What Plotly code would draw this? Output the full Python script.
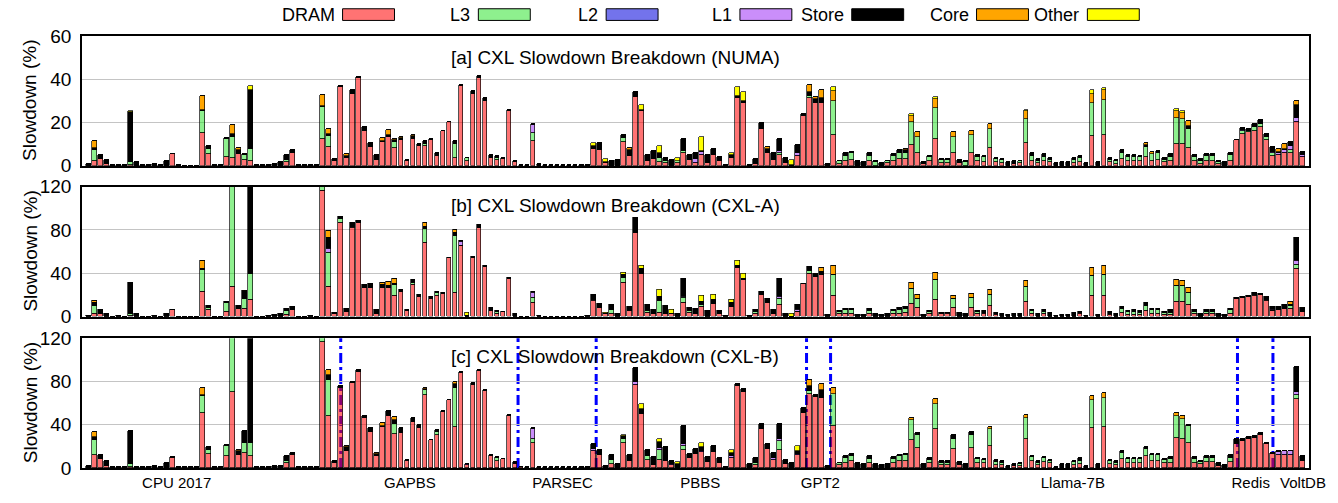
import plotly.graph_objects as go

N = 203
slots = list(range(N))

# ---------------- Panel a: NUMA ----------------
a_dram = [
 0, 2.2, 3, 1, 0, 0, 0, 0.3, 0, 0,
 0, 0, 0, 0, 5.2, 0, 0, 0, 0, 15,
 5.4, 0, 0, 4.2, 3.4, 5.4, 2.7, 2.2, 0, 0,
 0, 0, 0, 1.5, 5.7, 0, 0, 0, 0, 12.4,
 8.7, 2, 36.3, 3.7, 33.4, 40.5, 16, 8.7, 2.7, 11,
 13.2, 8.2, 11.7, 2.2, 12.4, 9.1, 9.1, 12, 4.5, 15.9,
 20, 3.7, 36.9, 2.2, 33.4, 40.5, 30, 3.7, 2.7, 3,
 25.5, 1.5, 0, 0, 11.2, 0, 0, 0, 0, 0,
 0, 0, 0, 0, 7.5, 7.2, 1.2, 0, 0, 11,
 4.5, 32, 25.5, 2, 3, 1.5, 1.2, 0, 1.2, 6,
 2.7, 1.2, 5, 1.2, 5, 2, 0, 3.4, 31.2, 28.8,
 0, 1, 17, 5.7, 2.7, 5, 1.2, 0, 4.5, 23,
 31.2, 29, 29, 0, 14.4, 1, 2, 2.7, 0, 0,
 2, 0, 0, 1.2, 2, 3, 3, 9.4, 6, 1,
 2, 12.4, 1.2, 1.2, 6, 1.2, 0, 6, 2, 1.5,
 8, 1.5, 1.2, 0, 0.9, 1.2, 10.5, 2.2, 1.2, 2,
 1.5, 0, 0, 0, 1.2, 1.5, 0, 13.6, 0, 14,
 1.5, 0.9, 3, 2, 2, 2, 4.2, 2.4, 2.7, 1.5,
 2, 10.2, 10.2, 8, 2, 1, 2.2, 2.2, 1, 0,
 2.4, 12, 14.7, 15.4, 15.9, 17.7, 12, 4.5, 5, 5.7,
 6, 20.4, 3.9]
a_l3 = [
 0, 5, 0, 0, 0, 0, 0, 1.2, 0, 0,
 0, 0, 0, 0, 0, 0, 0, 0, 0, 10.2,
 2.2, 0, 0, 8.2, 9.8, 0, 2.3, 5.3, 0, 0,
 0, 0, 0, 1.2, 0, 0, 0, 0, 0, 14.9,
 5.1, 0, 0, 0, 0, 0, 0, 0, 0, 0,
 0, 2.8, 0, 0, 0, 0, 1.1, 0, 0, 0,
 0, 6.3, 0, 1.2, 0, 0, 0, 0, 0.8, 0,
 0, 0, 0, 0, 3.8, 0, 0, 0, 0, 0,
 0, 0, 0, 0, 0, 0, 0, 0, 0, 1.7,
 0, 0, 0, 0, 0, 2.2, 1, 0, 0.8, 0.9,
 0, 0, 0, 0, 0, 0, 0, 0, 0, 0,
 0, 0, 0, 0, 0, 1, 0, 0, 0, 0,
 1, 0, 0, 0, 15.6, 1, 2.5, 3, 0, 0,
 2.5, 1.5, 0, 0.8, 2.5, 3, 3, 10.6, 7.2, 0,
 1.8, 14.3, 1.5, 1.5, 7.2, 0, 1.5, 8, 2.2, 2.4,
 9, 1.5, 1.5, 0, 0, 0.8, 11.2, 2.3, 1, 2.2,
 1.2, 0, 0, 0, 1.5, 2, 0, 15.4, 0, 16.4,
 1.2, 1.4, 3, 2, 2, 2, 4.5, 2.9, 3, 1.2,
 2.2, 12, 11.2, 9, 1.8, 1.2, 2.2, 2.2, 0.8, 0,
 2.6, 0, 1.5, 0.8, 1.8, 1.8, 1.2, 1.2, 0, 0,
 1.2, 0, 0]
a_store = [
 0.8, 1.2, 2, 1.7, 0.3, 0.3, 0.2, 23.5, 1.5, 0.3,
 0.3, 0.6, 0.3, 2, 0.3, 0.2, 0, 0, 0, 0.8,
 1.4, 0.2, 0.2, 0.3, 1.5, 2, 0.4, 27.7, 0.2, 0.1,
 0.3, 0.6, 1.5, 2.3, 1.5, 0.2, 0.1, 0.3, 0.1, 0.5,
 0.9, 1, 0.6, 0.8, 1.8, 0.6, 1.7, 1.8, 2.1, 0.6,
 1, 0.8, 1, 0.5, 1.2, 0.9, 1, 0.3, 1.2, 0.3,
 0.3, 1.2, 0.3, 0.3, 1.1, 0.9, 1.2, 1.3, 1, 0.7,
 0.3, 0.7, 0.3, 0.2, 0.6, 1, 0.3, 0.2, 0.3, 0.4,
 0.3, 0.2, 0.4, 0.5, 1.6, 3.3, 0.3, 2.2, 2.7, 1.7,
 2.7, 2.2, 0.5, 3, 3.9, 2, 1.2, 2.7, 0, 5.5,
 2.3, 2.7, 0.5, 3.8, 2.5, 2.2, 0.5, 1.5, 1, 1.2,
 0.5, 2.1, 2.6, 2, 3, 5.4, 2.2, 0.3, 3.4, 1,
 2, 1.8, 2.2, 1, 0, 0.4, 1.2, 0.7, 2, 1.5,
 1.2, 0.5, 1.2, 0.4, 0.9, 1.2, 1.2, 0, 0, 0.6,
 0.7, 0, 0.3, 0.3, 0, 1.5, 0.5, 0, 0.8, 0.6,
 0, 0.7, 0.6, 1.5, 1.1, 0.2, 0, 1.2, 0.8, 1.2,
 1, 1.2, 1.8, 1.8, 0.9, 1, 1.2, 0, 1.5, 0,
 0.7, 0.4, 1.2, 0.8, 0.8, 0.5, 1, 0, 1, 1,
 1.2, 0, 0, 1.2, 1, 0.8, 1, 1, 0.6, 1.5,
 1, 0.1, 0.7, 1, 1.5, 1.5, 1.5, 2.2, 0.7, 0.5,
 2, 6, 1.5]
a_l1 = {74: 3.9, 101: 1.8, 102: 1.5, 115: 1, 118: 1.5, 192: 0.5, 197: 0.8,
        198: 0.8, 199: 1.5, 200: 1.8, 201: 1.5, 202: 1}
a_core = {1: 2.8, 19: 6.2, 24: 4.3, 25: 0.6, 39: 5, 40: 2.3, 43: 0.9, 49: 1.1,
          50: 2.3, 51: 0.6, 52: 0.8, 54: 0.8, 90: 0.8, 113: 1, 120: 3, 121: 1.2,
          122: 3.8, 124: 4.5, 136: 0.3, 137: 3, 138: 2.2, 141: 4, 144: 2.2,
          147: 2.2, 150: 2.5, 156: 3.5, 167: 4.4, 169: 4.6, 176: 0.8, 177: 1,
          181: 3, 182: 3, 183: 2.5, 198: 1, 199: 2.5, 201: 2.1}
a_other = {7: 0.5, 27: 1.5, 84: 1.4, 86: 1.5, 92: 2.2, 95: 3.4, 98: 1.7,
           102: 6.2, 107: 1.1, 108: 4.2, 109: 3.9, 117: 2.4, 124: 1.8, 137: 1,
           141: 1.1, 156: 0.8, 167: 1.6, 169: 1.1, 181: 1.2, 182: 1.1}

# ---------------- Panel b: CXL-A ----------------
b_dram = [
 0, 3, 3, 0, 0, 0, 0, 0.5, 0, 0,
 0, 0, 0, 0, 6, 0, 0, 0, 0, 23.4,
 6, 0, 0, 4.5, 28, 7, 7.8, 16, 0, 0,
 0, 0, 0, 2, 6, 0, 0, 0, 0, 116,
 27.3, 2.4, 86.5, 4.5, 82, 86.5, 27, 26.4, 3, 26.4,
 27, 19, 23.4, 5.4, 29.4, 18, 68.5, 16.8, 19, 21.3,
 54, 22, 66, 0, 54, 82, 46, 5.4, 2.4, 4.5,
 35.4, 0, 0, 0, 13, 0, 0, 0, 0, 0,
 0, 0, 0, 0, 14.4, 8.4, 2.4, 2.4, 0, 31.8,
 5.4, 77.5, 40, 4, 2.4, 4, 2.4, 2.4, 0, 13,
 4, 2.4, 9, 0, 12, 2.4, 0, 9, 45, 34,
 0, 2.4, 20, 13, 3, 10.8, 0, 0, 4.8, 30,
 40, 37, 38.4, 0, 19, 2.4, 3, 3, 0, 0,
 3, 0, 0, 0, 2.4, 3, 3.9, 12.3, 8.4, 0,
 2.4, 16, 2.4, 2.4, 8.4, 0, 0, 8.4, 2.4, 2.4,
 10, 1.8, 0, 0, 0, 0, 13.8, 2.4, 0, 2.4,
 0, 0, 0, 0, 0, 2.4, 0, 19, 0, 19,
 1.8, 0, 4, 1.8, 1.8, 1.8, 5.4, 3, 3, 1.8,
 1.8, 13.8, 13.8, 10.8, 2.4, 0, 2.4, 2.4, 0, 0,
 3, 16.8, 17.4, 18, 19, 20.4, 14.4, 5.4, 6, 7.5,
 7.8, 44.4, 4.5]
b_l3 = [
 0, 7.5, 0, 0, 0, 0, 0, 2.5, 0, 0,
 0, 0, 0, 0, 0, 0, 0, 0, 0, 20.1,
 2.4, 0, 0, 8.5, 95, 0, 9, 24, 0, 0,
 0, 0, 0, 3.5, 0, 0, 0, 0, 0, 6,
 31.7, 0, 3.9, 0, 1.5, 0, 0, 0, 0, 0,
 0, 10.4, 0, 0, 2.4, 0, 12.5, 0, 3, 0,
 0, 53, 0, 0, 0, 0, 0, 0, 1.8, 0,
 0, 0, 0, 0, 4.4, 0, 0, 0, 0, 0,
 0, 0, 0, 0, 1.5, 0, 0, 4.5, 0, 4.2,
 0, 0, 0, 1.5, 0, 10.4, 0, 0, 0, 4.4,
 1.5, 0, 2.4, 0, 0, 0, 0, 0, 0, 0,
 0, 2.1, 0, 0, 0, 6, 0, 0, 0, 0,
 2.1, 0, 0, 0, 19.4, 2.1, 3, 3, 0, 0,
 2.4, 0, 0, 0, 3, 3.9, 3.6, 13.2, 8.4, 0,
 2.1, 18, 0, 1.6, 8.4, 0, 0, 9, 2.1, 1.5,
 10.4, 1.2, 0, 0, 0, 0, 14.2, 3, 0, 2.1,
 0, 0, 0, 0, 0, 1.5, 0, 19, 0, 20,
 1.2, 0, 3.8, 2.7, 2.7, 2.1, 4.5, 3, 3, 2.1,
 2.1, 15, 15, 11.2, 2.1, 0, 2.4, 2.4, 0, 0,
 3, 0, 0, 0, 1.5, 0, 1.5, 0, 0, 0,
 2.1, 3.6, 0]
b_store = [
 0.5, 2.4, 3, 3, 0.3, 0.6, 0.2, 28.8, 2.4, 0.3,
 0.3, 0.8, 0.3, 2.4, 0.6, 0.2, 0, 0, 0, 1,
 2.1, 0.2, 0.2, 0.8, 0, 3.5, 6.5, 90, 0.3, 0.2,
 0.5, 1.5, 2.7, 2, 3, 0.2, 0.2, 0.5, 0.2, 0,
 10.6, 1.6, 2.1, 3.3, 3.5, 2.4, 2.4, 3.6, 3.6, 3,
 1.5, 1, 1.2, 1, 2.2, 2.4, 2, 1.2, 1.4, 0.7,
 0.6, 2.4, 1, 1, 1.8, 3, 1, 3, 1.2, 0.3,
 0.9, 2.4, 0.3, 0.3, 1.4, 1.2, 0.3, 0.3, 0.2, 0.3,
 0.3, 0.2, 0.3, 0.5, 4.5, 3.6, 0, 3.9, 2.4, 2.4,
 3.6, 13.5, 4.5, 5.9, 4.2, 3.6, 7.6, 0, 2.4, 16.5,
 2.9, 5.1, 2.4, 5.4, 3.9, 3, 1, 3.6, 1.8, 1.5,
 1.2, 1.5, 3.4, 3.8, 3, 15.9, 3, 0.4, 3.9, 0.6,
 4.4, 1.5, 3, 1.8, 0, 0.9, 1.5, 1.5, 1.8, 1.8,
 1.6, 2.4, 1.5, 2.4, 1.2, 1.5, 1.8, 0, 0, 2.1,
 0.9, 0, 0.9, 0, 0, 3.3, 2.4, 0, 0.9, 1.5,
 0, 1, 3, 1.8, 2.4, 2.4, 0, 1.2, 3, 2.1,
 4, 1.2, 1.5, 1.5, 4, 1.1, 1.2, 0, 1.5, 0,
 1.2, 3, 1.8, 0.9, 1.5, 1.5, 3.3, 1.8, 1.8, 0.9,
 2.1, 0, 0, 0, 1.5, 3, 1.8, 1.8, 2.4, 1.5,
 1.8, 0.6, 0.9, 1, 2, 0.9, 1.5, 2.1, 3, 3.3,
 1, 21.7, 3]
b_l1 = {40: 3.4, 62: 3, 74: 4.6, 99: 1.5, 115: 2.1, 118: 2.1, 197: 1.5, 201: 3.3}
b_core = {1: 2.1, 19: 7.5, 26: 0.7, 40: 6, 49: 1.6, 50: 3.9, 51: 4.6, 56: 3.5,
          61: 3.1, 121: 1.5, 122: 3.9, 124: 8.4, 137: 5.5, 138: 3.6, 141: 6.5,
          144: 2.7, 147: 3.9, 150: 4.6, 156: 5, 167: 7.6, 169: 7.8, 181: 5.2,
          182: 4.2, 183: 4.4, 196: 1.2, 200: 2.6, 202: 0.9}
b_other = {63: 3, 86: 1.6, 89: 2.4, 92: 2.3, 95: 7, 97: 3.9, 102: 6, 104: 4.5,
           107: 2.7, 108: 5.2, 109: 4.5, 117: 2}

# ---------------- Panel c: CXL-B ----------------
c_dram = [
 0, 12, 8, 1.5, 0, 0, 0, 0.6, 0, 0,
 0, 0, 0, 0, 9, 0, 0, 0, 0, 51,
 12.6, 0, 0, 10.5, 69.6, 12, 13.5, 10.5, 0, 0,
 0, 0, 0, 4.5, 12, 0, 0, 0, 0, 116.5,
 47.4, 4.5, 73.5, 15.6, 78, 88.5, 45.6, 33, 10.5, 37.5,
 47.4, 31, 32.4, 6.6, 42.6, 36.6, 67.5, 25.5, 30.6, 52,
 62.4, 38, 87.6, 2.4, 76.5, 89.4, 71.4, 10.5, 6.6, 8,
 47.4, 3.5, 0.6, 0, 22.5, 0, 0, 0, 0, 0,
 0, 0, 0, 0, 15.6, 12, 0, 3.5, 0, 22.5,
 6.6, 76.5, 49.5, 7.5, 2.4, 7.5, 6, 2.4, 0, 16.8,
 9, 13, 14.4, 5.4, 14.4, 4, 0, 9, 75.5, 70,
 0, 2.4, 35.4, 17.4, 7.5, 16.5, 3.5, 0, 11.4, 50.4,
 68.4, 65, 64.5, 0, 39, 2.4, 4.8, 6, 0, 0,
 4.8, 0, 0, 0, 4, 6, 6, 26, 18.6, 0,
 4, 35.4, 2.4, 2.4, 17.4, 2.4, 0, 18.6, 4, 4,
 20.4, 2.4, 2.4, 0, 1.5, 1.5, 27, 6, 2.4, 5.4,
 4, 0, 0, 0, 2.4, 3, 0, 37, 0, 38,
 3, 2.4, 8, 4, 4, 4, 10.5, 6, 6, 4,
 4, 27.6, 26.4, 22.5, 4, 3, 5.4, 5.4, 1.5, 0,
 5.4, 21.6, 25, 26.5, 27.4, 30, 21.6, 12.6, 11.4, 12,
 12, 63.6, 6.6]
c_l3 = [
 0, 13.5, 0, 0, 0, 0, 0, 3, 0, 0,
 0, 0, 0, 0, 0, 0, 0, 0, 0, 15,
 3.9, 0, 0, 9.9, 55, 0, 9, 12, 0, 0,
 0, 0, 0, 2, 0, 0, 0, 0, 0, 6,
 33.6, 0, 0, 0, 0, 0, 0, 0, 0, 0,
 0, 9.5, 0, 0, 0, 0, 4.5, 0, 2.4, 0,
 0, 36, 0, 0, 0, 0, 0, 0, 2.4, 0,
 0, 0, 0, 0, 4.5, 0, 0, 0, 0, 0,
 0, 0, 0, 0, 0, 0, 0, 3.9, 0, 4.5,
 0, 0, 0, 3, 0, 9, 0, 0, 0, 3.6,
 0, 0, 0, 0, 0, 0, 0, 0, 0, 0,
 0, 1.5, 0, 0, 0, 8.4, 0, 0, 0, 0,
 3, 0, 0, 0, 29.4, 1.5, 4.2, 4.6, 0, 0,
 3.6, 0, 0, 0, 3.6, 4.5, 5.5, 18, 12, 0,
 3, 23.1, 2.4, 2.4, 9.6, 0, 0, 12, 4, 3,
 15.6, 3, 2.4, 0, 0, 2, 18.6, 3.6, 2.4, 3.6,
 2.5, 0, 0, 0, 3, 3.6, 0, 25.4, 0, 26.5,
 3, 2.4, 5.4, 3.6, 3.6, 3.6, 6.9, 5.4, 5.4, 3,
 4, 19.8, 18.6, 15.9, 4, 2.4, 3.6, 3.6, 0, 0,
 3.6, 0, 0, 0, 0, 0, 0, 0, 0, 0,
 0, 3.8, 0]
c_store = [
 2, 3, 4, 4.5, 0.3, 0.3, 0.3, 30.4, 0.6, 0.3,
 0.6, 1.2, 0.5, 3.9, 1, 0.2, 0.2, 0.2, 0.2, 1,
 2.5, 0.3, 0.3, 0.6, 0, 3.5, 11.1, 100, 0.3, 0.2,
 0.5, 1.5, 2, 4, 1.5, 0.3, 0.2, 0.6, 0.2, 0,
 4.5, 1.5, 2.1, 3.8, 1, 2.1, 2.4, 3.6, 2, 1.5,
 5.1, 4, 4.2, 0.9, 3, 3, 1.2, 0.5, 1.5, 0.5,
 0.6, 3.6, 0.9, 0, 1.5, 1.2, 0.6, 0.9, 0.6, 0.4,
 1.2, 1.5, 0, 0.5, 0.6, 1, 0.3, 0.5, 0.3, 0.8,
 0.4, 0.3, 0.5, 0.8, 4.6, 4.8, 1.5, 4, 3, 2.4,
 5.4, 12.5, 4.5, 6, 7.2, 5.4, 13.5, 2.6, 3.5, 16.5,
 4, 4.4, 3, 4.2, 6, 5, 1, 3, 2.1, 2.5,
 3, 4.8, 5.1, 4.2, 4.5, 14.1, 4, 4, 3, 4.6,
 4.5, 2.6, 7.5, 1.8, 0, 0.6, 2, 2, 4, 3,
 2.6, 3, 2.4, 3, 2.3, 1.5, 1.5, 0, 1.2, 3,
 1.7, 0, 1.2, 1.2, 3.6, 3, 3, 2.4, 1, 1.4,
 0, 1.6, 1.2, 1.5, 1.5, 1, 0, 1.4, 1.2, 1,
 1, 1, 3, 3, 1.2, 2.1, 1.5, 0, 3, 0,
 1, 1.2, 1.6, 1.4, 1.4, 1.4, 2.1, 1.2, 1.2, 1.4,
 2, 0, 0, 1.2, 1.6, 1.2, 1.5, 1.5, 3, 2.7,
 2.4, 5.4, 1.4, 1.5, 2, 1.8, 1.2, 0.9, 0.9, 0.9,
 0.9, 22.6, 3.9]
c_l1 = {63: 1.2, 74: 9, 84: 1.8, 91: 3, 95: 2.1, 97: 1, 99: 1.5, 102: 1.5,
        107: 1.5, 114: 1.5, 115: 1.5, 118: 1.5, 198: 2.7, 199: 3, 200: 3, 201: 3}
c_core = {1: 4.5, 19: 6.5, 25: 1, 40: 5.2, 43: 1, 48: 1.5, 49: 2.4, 51: 2.2,
          56: 0.8, 61: 1.4, 120: 5.1, 122: 5, 124: 5.1, 137: 2.2, 141: 5.1,
          150: 1.5, 156: 3, 167: 3.6, 169: 4.5, 181: 3, 182: 3}
c_other = {89: 1.2, 92: 4.5, 95: 3, 98: 1.9, 102: 3.6, 107: 3, 118: 4.5, 201: 0.6}

# benchmark groups (x tick labels of the bottom panel) and separators
group_names = ["CPU 2017", "GAPBS", "PARSEC", "PBBS", "GPT2", "Llama-7B", "Redis", "VoltDB"]
group_pos = [14.7, 53.5, 78.9, 101.8, 121.8, 163.8, 193.4, 202.1]
sep_pos = [42, 71.5, 84.5, 119.5, 123.5, 191.2, 197.1]

legend_names = ["DRAM", "L3", "L2", "L1", "Store", "Core", "Other"]

for lst in (a_dram, a_l3, a_store, b_dram, b_l3, b_store, c_dram, c_l3, c_store):
    assert len(lst) == N, len(lst)


def dense(d):
    return [d.get(i, 0) for i in range(N)]


COL = {
    "DRAM": "rgba(255,0,0,0.55)",
    "L3": "rgba(30,225,30,0.5)",
    "L2": "rgba(0,0,220,0.55)",
    "L1": "rgba(150,30,245,0.5)",
    "Store": "rgb(0,0,0)",
    "Core": "rgb(255,165,0)",
    "Other": "rgb(255,255,0)",
}

FONT = "Liberation Sans, Arial, Helvetica, sans-serif"
fig = go.Figure()

panels = [
    ("x", "y", a_dram, a_l3, a_l1, a_store, a_core, a_other),
    ("x2", "y2", b_dram, b_l3, b_l1, b_store, b_core, b_other),
    ("x3", "y3", c_dram, c_l3, c_l1, c_store, c_core, c_other),
]
for xa, ya, dram, l3, l1, store, core, other in panels:
    series = [("DRAM", dram), ("L3", l3), ("L1", dense(l1)),
              ("Store", store), ("Core", dense(core)), ("Other", dense(other))]
    for name, vals in series:
        fig.add_trace(go.Bar(
            x=slots, y=vals, xaxis=xa, yaxis=ya, width=0.78, name=name,
            marker=dict(color=COL[name], line=dict(color="rgba(0,0,0,0.85)", width=0.8)),
            showlegend=False, hoverinfo="skip"))

# pixel helpers for the page layout (plot area: x 82..1311, y 36..480)
L, R, T, B = 82, 27, 36, 23
W, H = 1338, 503
PW, PH = W - L - R, H - T - B


def px(xp):
    return (xp - L) / PW


def py(yp):
    return (H - B - yp) / PH


dom_a = [py(169.3), 1.0]
dom_b = [py(324.3), py(190.7)]
dom_c = [0.0, py(346.7)]

common_x = dict(range=[-1.05, 203.1], showline=True, mirror=True, linecolor="black",
                linewidth=1.5, showgrid=False, zeroline=False, ticks="", domain=[0, 1])
common_y = dict(showgrid=True, gridcolor="#c4c4c4", gridwidth=1, showline=True, mirror=True,
                linecolor="black", linewidth=1.5, zeroline=False, ticks="",
                tickfont=dict(size=19, family=FONT, color="black"), ticklabelstandoff=5)

fig.update_layout(
    width=W, height=H, barmode="stack", bargap=0,
    margin=dict(l=L, r=R, t=T, b=B),
    paper_bgcolor="white", plot_bgcolor="rgba(0,0,0,0)",
    font=dict(family=FONT, color="black"),
    xaxis=dict(common_x, anchor="y", showticklabels=False),
    xaxis2=dict(common_x, anchor="y2", showticklabels=False),
    xaxis3=dict(common_x, anchor="y3", tickmode="array", tickvals=group_pos,
                ticktext=group_names, tickfont=dict(size=15, family=FONT, color="black")),
    yaxis=dict(common_y, anchor="x", domain=dom_a, range=[0, 60], tickvals=[0, 20, 40, 60]),
    yaxis2=dict(common_y, anchor="x2", domain=dom_b, range=[0, 120], tickvals=[0, 40, 80, 120]),
    yaxis3=dict(common_y, anchor="x3", domain=dom_c, range=[0, 120], tickvals=[0, 40, 80, 120]),
)

shapes = []
for p in sep_pos:
    shapes.append(dict(type="line", xref="x3", yref="y3 domain", x0=p, x1=p, y0=0, y1=1,
                       line=dict(color="rgb(0,0,255)", width=3, dash="10px,4px,3px,4px"),
                       layer="below"))

annotations = []
titles = ["[a] CXL Slowdown Breakdown (NUMA)", "[b] CXL Slowdown Breakdown (CXL-A)",
          "[c] CXL Slowdown Breakdown (CXL-B)"]
title_y = [58, 210, 365]
for t, ty in zip(titles, title_y):
    annotations.append(dict(text=t, xref="paper", yref="paper", x=px(616), y=py(ty),
                            xanchor="center", yanchor="middle", showarrow=False,
                            font=dict(size=19, family=FONT, color="black")))
for dom in (dom_a, dom_b, dom_c):
    annotations.append(dict(text="Slowdown (%)", xref="paper", yref="paper", x=px(30),
                            y=(dom[0] + dom[1]) / 2, textangle=-90, xanchor="center",
                            yanchor="middle", showarrow=False,
                            font=dict(size=19, family=FONT, color="black")))

# manual gnuplot-style key: label then swatch
sw_x0 = [343, 479, 607, 741, 853, 978, 1089]
for name, x0 in zip(legend_names, sw_x0):
    shapes.append(dict(type="rect", xref="paper", yref="paper", x0=px(x0), x1=px(x0 + 52),
                       y0=py(20), y1=py(8), fillcolor=COL[name],
                       line=dict(color="black", width=1), layer="above"))
    annotations.append(dict(text=name, xref="paper", yref="paper", x=px(x0 - 6), y=py(14),
                            xanchor="right", yanchor="middle", showarrow=False,
                            font=dict(size=18, family=FONT, color="black")))

fig.update_layout(shapes=shapes, annotations=annotations)
fig.write_html("out.html")
